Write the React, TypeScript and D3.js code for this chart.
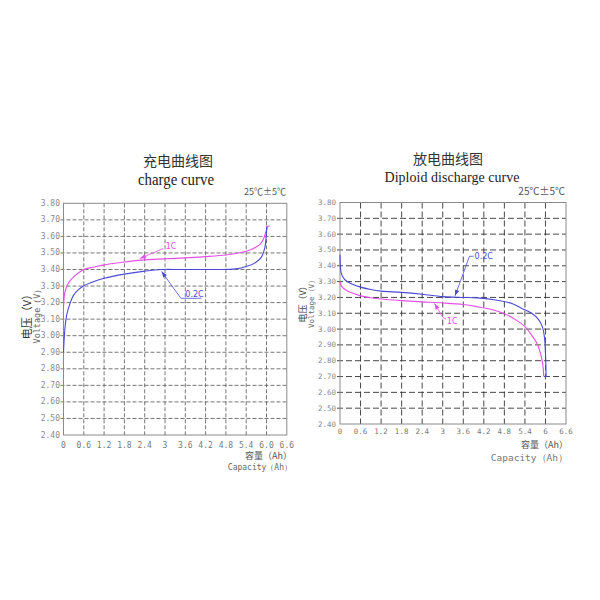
import React from "react";
import * as d3 from "d3";

// ---------- data ----------
const capacityTicks = [0, 0.6, 1.2, 1.8, 2.4, 3, 3.6, 4.2, 4.8, 5.4, 6, 6.6];
const chargeTickLabels = ["0", "0.6", "1.2", "1.8", "2.4", "3", "3.6", "4.2", "4.8", "5.4", "6.0", "6.6"];
const dischargeTickLabels = ["0", "0.6", "1.2", "1.8", "2.4", "3", "3.6", "4.2", "4.8", "5.4", "6", "6.6"];
const voltageTicks = [3.8, 3.7, 3.6, 3.5, 3.4, 3.3, 3.2, 3.1, 3.0, 2.9, 2.8, 2.7, 2.6, 2.5, 2.4];

// charge curve [capacity Ah, voltage V]
const charge1C: [number, number][] = [
  [0, 3.17], [0.03, 3.25], [0.08, 3.29], [0.15, 3.32], [0.3, 3.355], [0.45, 3.38], [0.6, 3.4],
  [0.9, 3.415], [1.2, 3.428], [1.8, 3.445], [2.2, 3.455], [3.0, 3.465], [3.6, 3.47], [4.2, 3.478],
  [4.8, 3.488], [5.1, 3.497], [5.4, 3.51], [5.6, 3.525], [5.8, 3.55], [5.9, 3.58], [5.97, 3.62], [6.03, 3.66],
];
const charge02C: [number, number][] = [
  [0, 2.9], [0.02, 2.98], [0.05, 3.06], [0.1, 3.13], [0.2, 3.2], [0.3, 3.245], [0.45, 3.28], [0.6, 3.302],
  [0.9, 3.328], [1.2, 3.347], [1.8, 3.372], [2.4, 3.39], [2.9, 3.4], [3.5, 3.4], [4.5, 3.4], [5.1, 3.404],
  [5.4, 3.418], [5.7, 3.445], [5.85, 3.475], [5.95, 3.53], [5.99, 3.6], [6.01, 3.66],
];
const chargeEndTick: [number, number][] = [[5.98, 3.662], [6.1, 3.662]];

// discharge curve [capacity Ah, voltage V]
const discharge1C: [number, number][] = [
  [0, 3.3], [0.05, 3.27], [0.15, 3.25], [0.3, 3.232], [0.6, 3.21], [0.9, 3.198], [1.2, 3.19], [1.8, 3.18],
  [2.4, 3.172], [3.0, 3.165], [3.6, 3.155], [4.0, 3.142], [4.4, 3.125], [4.8, 3.097], [5.1, 3.063],
  [5.4, 3.015], [5.6, 2.96], [5.75, 2.91], [5.85, 2.85], [5.92, 2.78], [5.95, 2.7],
];
const discharge02C: [number, number][] = [
  [0, 3.47], [0.01, 3.4], [0.03, 3.36], [0.08, 3.33], [0.15, 3.31], [0.3, 3.29], [0.6, 3.265], [0.9, 3.25],
  [1.2, 3.24], [1.8, 3.232], [2.4, 3.22], [3.0, 3.205], [3.6, 3.2], [4.0, 3.197], [4.5, 3.185], [5.0, 3.163],
  [5.3, 3.132], [5.6, 3.1], [5.8, 3.06], [5.9, 3.02], [5.97, 2.95], [6.0, 2.85], [6.02, 2.7],
];
const dischargeEndTick: [number, number][] = [[5.97, 2.7], [6.03, 2.7]];

// annotations: leader path (arrow at first point), label position
const chargeNotes = [
  { label: "1C", color: "#e64ee6", path: [[2.26, 3.466], [2.95, 3.527]] as [number, number][], at: [3.02, 3.522] as [number, number] },
  { label: "0.2C", color: "#4a4ad6", path: [[2.9, 3.388], [3.47, 3.226], [4.08, 3.226]] as [number, number][], at: [3.6, 3.236] as [number, number] },
];
const dischargeNotes = [
  { label: "0.2C", color: "#4a4ad6", path: [[3.36, 3.21], [3.78, 3.46], [3.9, 3.46]] as [number, number][], at: [3.93, 3.44] as [number, number] },
  { label: "1C", color: "#e64ee6", path: [[2.76, 3.162], [3.0, 3.075], [3.1, 3.063]] as [number, number][], at: [3.12, 3.035] as [number, number] },
];

const COLOR_1C = "#e64ee6";
const COLOR_02C = "#4a4ad6";

type Pt = [number, number];
type Note = { label: string; color: string; path: Pt[]; at: Pt };

interface ChartProps {
  x0: number; x1: number; y0: number; y1: number;
  tickLabels: string[];
  series: { data: Pt[]; color: string }[];
  extras: { data: Pt[]; color: string }[];
  notes: Note[];
  gridColor: string;
  gridDash: string;
  xLabelY: number;
  yLabelX: number;
  tickFont: number;
}

function Chart(p: ChartProps) {
  const x = d3.scaleLinear().domain([0, 6.6]).range([p.x0, p.x1]);
  const y = d3.scaleLinear().domain([2.4, 3.8]).range([p.y1, p.y0]);
  const line = d3.line<Pt>().x((d) => x(d[0])).y((d) => y(d[1])).curve(d3.curveCatmullRom.alpha(0.5));
  const lin = d3.line<Pt>().x((d) => x(d[0])).y((d) => y(d[1]));
  const fmt = (v: number) => v.toFixed(2);
  return (
    <g>
      {/* grid */}
      {capacityTicks.slice(1, -1).map((t) => (
        <line key={"vx" + t} x1={x(t)} x2={x(t)} y1={y(3.8)} y2={y(2.4)} stroke={p.gridColor} strokeWidth={0.9} strokeDasharray={p.gridDash} />
      ))}
      {voltageTicks.slice(1, -1).map((t) => (
        <line key={"hy" + t} x1={x(0) - 3} x2={x(6.6)} y1={y(t)} y2={y(t)} stroke={p.gridColor} strokeWidth={0.9} strokeDasharray={p.gridDash} />
      ))}
      <rect x={x(0)} y={y(3.8)} width={x(6.6) - x(0)} height={y(2.4) - y(3.8)} fill="none" stroke="#8a8a8a" strokeWidth={1} />
      {/* y tick labels */}
      {voltageTicks.map((t) => (
        <text key={"yl" + t} x={p.yLabelX} y={y(t)} dominantBaseline="central" textAnchor="end" fontSize={p.tickFont} fontFamily="DejaVu Sans Mono" fill="#8a8a8a">
          {fmt(t)}
        </text>
      ))}
      {/* x tick labels */}
      {capacityTicks.map((t, i) => (
        <text key={"xl" + t} x={x(t)} y={p.xLabelY} dominantBaseline="central" textAnchor="middle" fontSize={p.tickFont} fontFamily="DejaVu Sans Mono" fill="#7a7a7a">
          {p.tickLabels[i]}
        </text>
      ))}
      {/* curves */}
      {p.series.map((s, i) => (
        <path key={"s" + i} d={line(s.data) || ""} fill="none" stroke={s.color} strokeWidth={1.1} />
      ))}
      {p.extras.map((s, i) => (
        <path key={"e" + i} d={lin(s.data) || ""} fill="none" stroke={s.color} strokeWidth={1} />
      ))}
      {/* annotations */}
      {p.notes.map((n, i) => {
        const a = n.path[0];
        const b = n.path[1];
        const ax = x(a[0]), ay = y(a[1]);
        const ang = Math.atan2(ay - y(b[1]), ax - x(b[0]));
        const L = 6, W = 2.2;
        const bx = ax - L * Math.cos(ang), by = ay - L * Math.sin(ang);
        const tri = [
          [ax, ay],
          [bx + W * Math.sin(ang), by - W * Math.cos(ang)],
          [bx - W * Math.sin(ang), by + W * Math.cos(ang)],
        ];
        return (
          <g key={"n" + i}>
            <path d={lin(n.path) || ""} fill="none" stroke={n.color} strokeWidth={0.8} />
            <polygon points={tri.map((q) => q.join(",")).join(" ")} fill={n.color} />
            <text x={x(n.at[0])} y={y(n.at[1])} fontSize={8} fontFamily="DejaVu Sans" fill={n.color}>
              {n.label}
            </text>
          </g>
        );
      })}
    </g>
  );
}

export default function App() {
  return (
    <svg width={600} height={600} style={{ position: "absolute", left: 0, top: 0, background: "#fff" }}>
      <rect x={0} y={0} width={600} height={600} fill="#fff" />
      {/* ---- left: charge ---- */}
      <text x={178} y={166} textAnchor="middle" fontSize={14} fontFamily="Noto Sans CJK SC" fill="#333">充电曲线图</text>
      <text x={176} y={185} textAnchor="middle" fontSize={16} fontFamily="Liberation Serif" fill="#222" textLength={76} lengthAdjust="spacingAndGlyphs">charge curve</text>
      <text x={286} y={195} textAnchor="end" fontSize={9} fontFamily="Noto Sans CJK SC" fill="#555">25℃±5℃</text>
      <Chart
        x0={63.5} x1={286.8} y0={203.3} y1={435}
        tickLabels={chargeTickLabels}
        series={[{ data: charge1C, color: COLOR_1C }, { data: charge02C, color: COLOR_02C }]}
        extras={[{ data: chargeEndTick, color: COLOR_1C }]}
        notes={chargeNotes}
        gridColor="#666"
        gridDash="4 2"
        xLabelY={445}
        yLabelX={60}
        tickFont={8}
      />
      <text x={26} y={314} transform="rotate(-90 26 314)" textAnchor="middle" dominantBaseline="central" fontSize={11} fontFamily="Noto Sans CJK SC" fill="#333">电压（V）</text>
      <text x={37} y={314} transform="rotate(-90 37 314)" textAnchor="middle" dominantBaseline="central" fontSize={8.5} fontFamily="DejaVu Sans Mono" fill="#666">Voltage（V）</text>
      <text x={292} y={455} textAnchor="end" dominantBaseline="central" fontSize={9} fontFamily="Noto Sans CJK SC" fill="#555">容量（Ah）</text>
      <text x={292} y={467} textAnchor="end" dominantBaseline="central" fontSize={8} fontFamily="DejaVu Sans Mono" fill="#666">Capacity（Ah）</text>

      {/* ---- right: discharge ---- */}
      <text x={448} y={164} textAnchor="middle" fontSize={14} fontFamily="Noto Sans CJK SC" fill="#333">放电曲线图</text>
      <text x={452} y={182} textAnchor="middle" fontSize={14} fontFamily="Liberation Serif" fill="#222" textLength={135} lengthAdjust="spacing">Diploid discharge curve</text>
      <text x={565} y={195} textAnchor="end" fontSize={10} fontFamily="Noto Sans CJK SC" fill="#555">25℃±5℃</text>
      <Chart
        x0={340} x1={566} y0={202.5} y1={424}
        tickLabels={dischargeTickLabels}
        series={[{ data: discharge1C, color: COLOR_1C }, { data: discharge02C, color: COLOR_02C }]}
        extras={[{ data: dischargeEndTick, color: COLOR_02C }]}
        notes={dischargeNotes}
        gridColor="#333"
        gridDash="6 3"
        xLabelY={431.5}
        yLabelX={336}
        tickFont={7.5}
      />
      <text x={302} y={302} transform="rotate(-90 302 302)" textAnchor="middle" dominantBaseline="central" fontSize={9} fontFamily="Noto Sans CJK SC" fill="#444">电压（V）</text>
      <text x={311.5} y={302} transform="rotate(-90 311.5 302)" textAnchor="middle" dominantBaseline="central" fontSize={7.5} fontFamily="DejaVu Sans Mono" fill="#666">Voltage（V）</text>
      <text x={568} y={444.5} textAnchor="end" dominantBaseline="central" fontSize={9} fontFamily="Noto Sans CJK SC" fill="#555">容量（Ah）</text>
      <text x={568} y={457} textAnchor="end" dominantBaseline="central" fontSize={9.5} fontFamily="DejaVu Sans Mono" fill="#777">Capacity（Ah）</text>
    </svg>
  );
}
